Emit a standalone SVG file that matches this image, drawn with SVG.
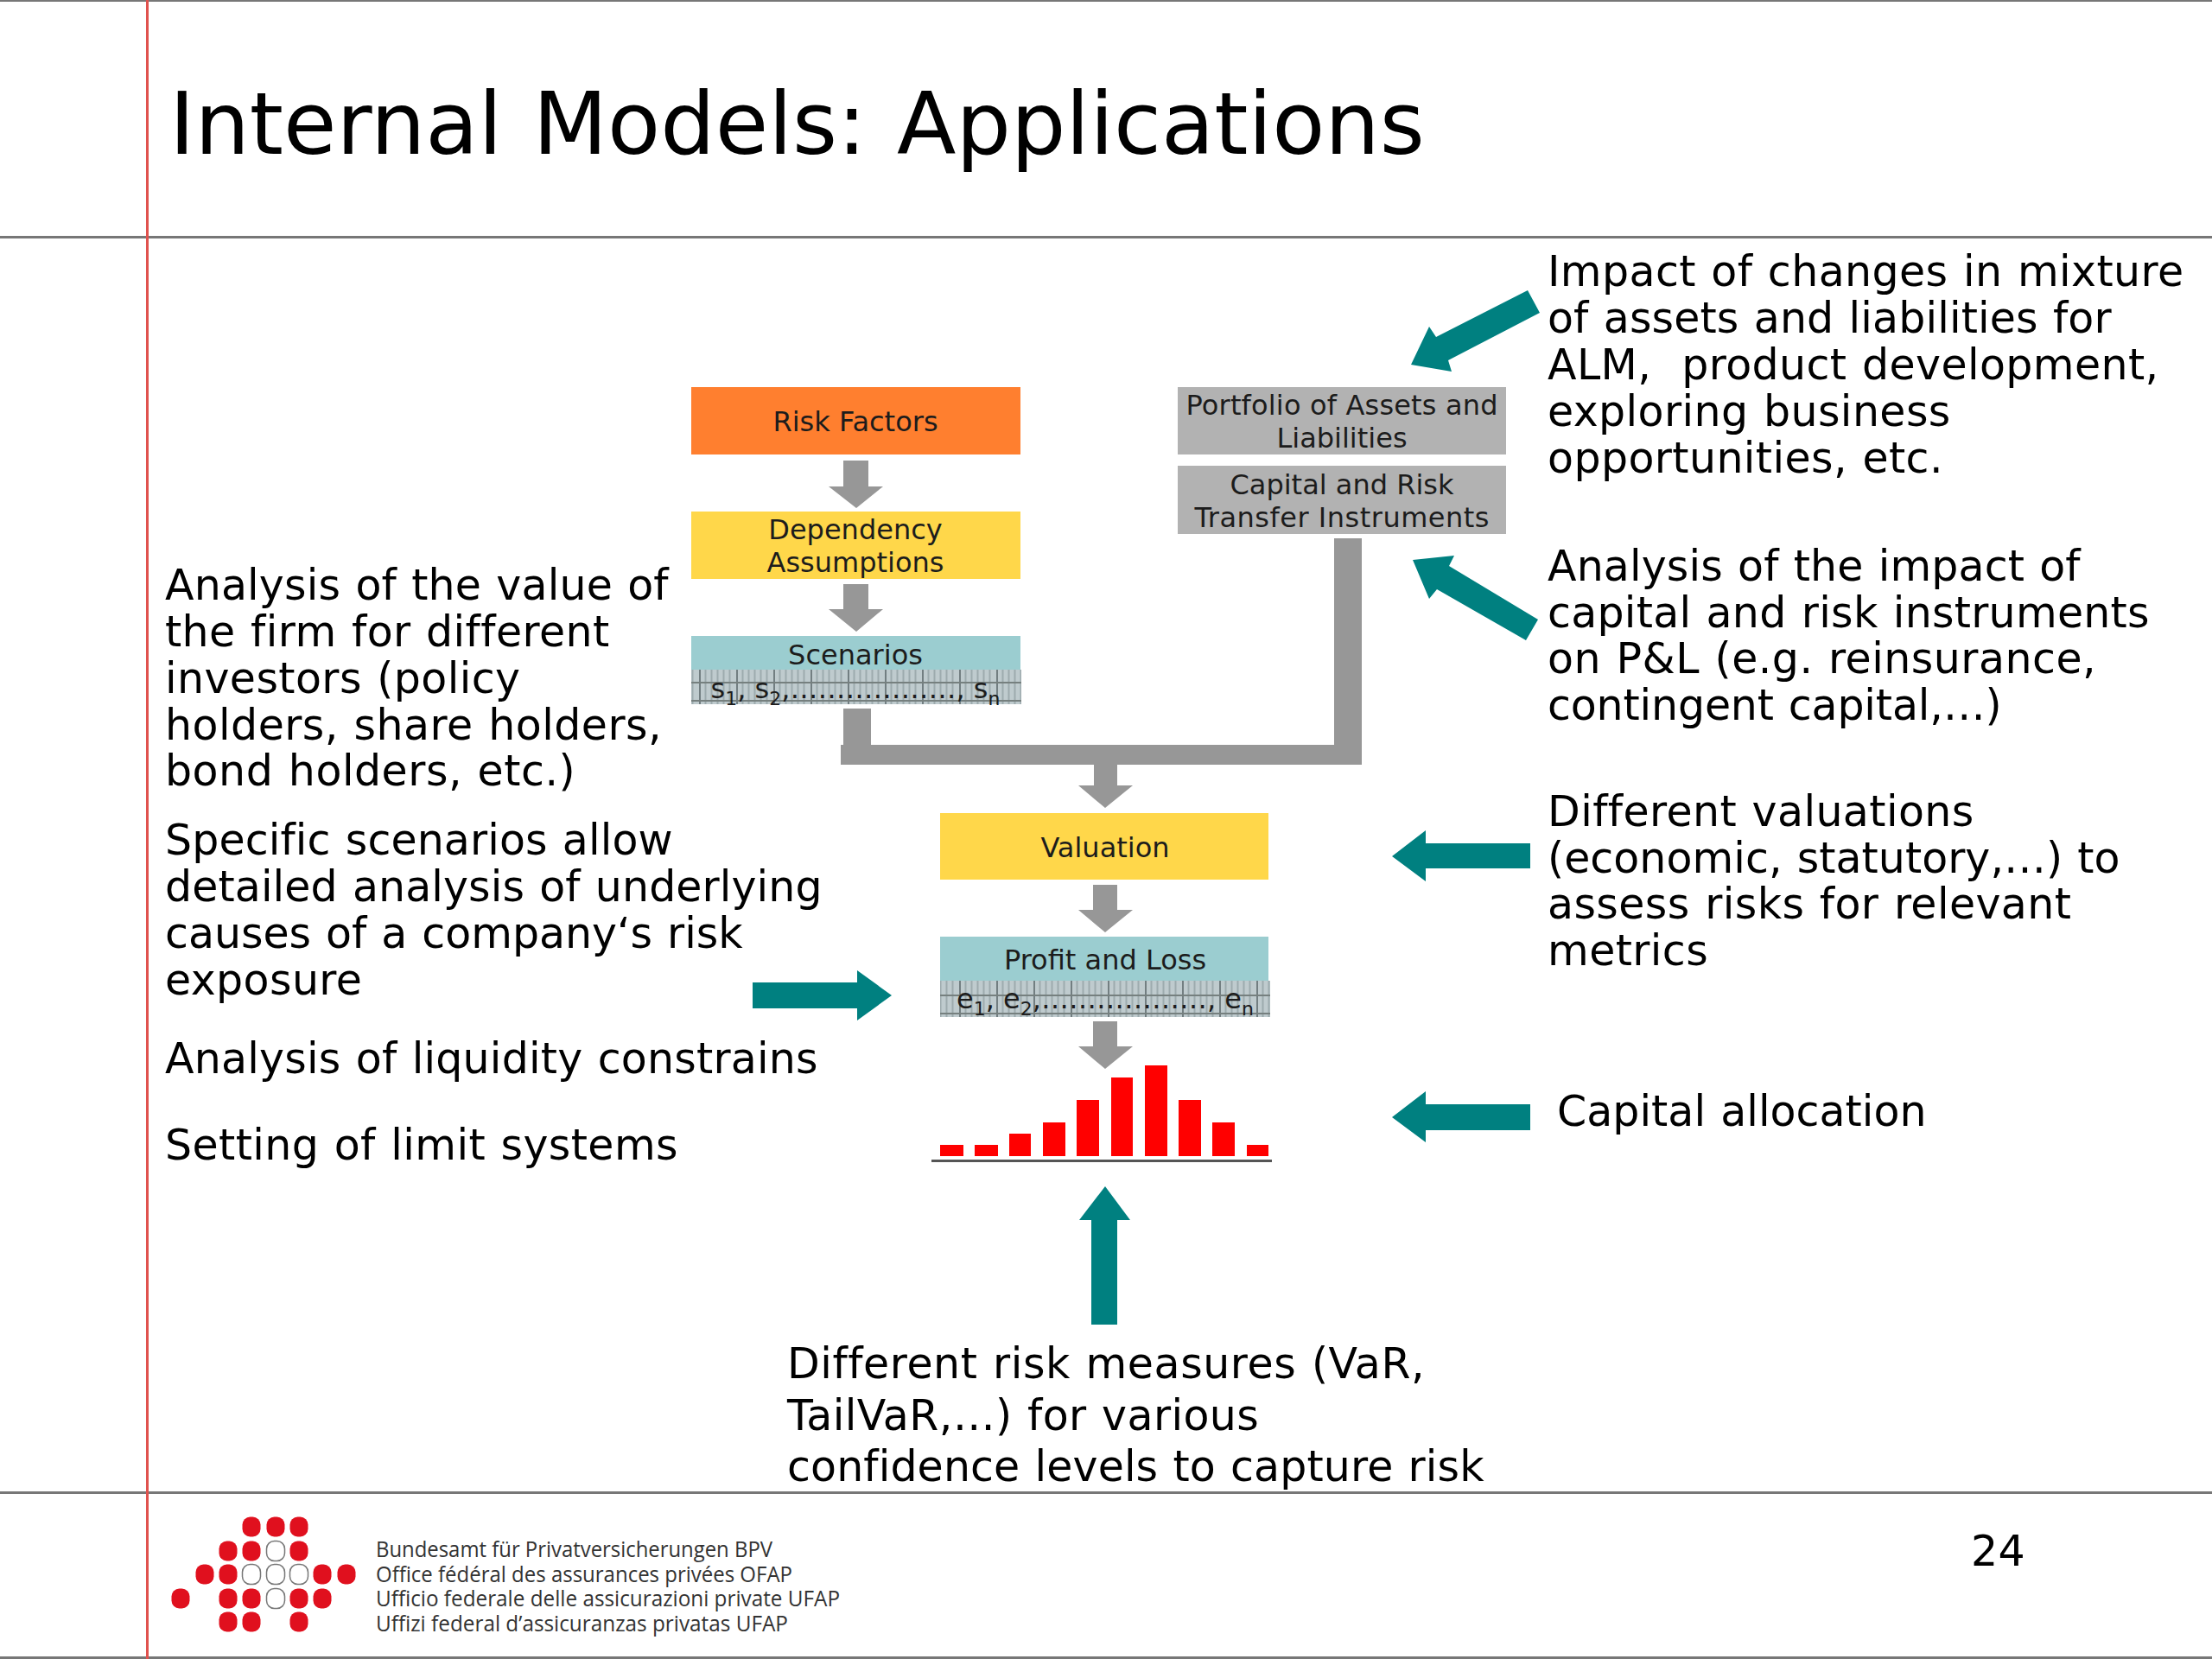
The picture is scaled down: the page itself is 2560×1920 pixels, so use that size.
<svg xmlns="http://www.w3.org/2000/svg" width="2560" height="1920" viewBox="0 0 2560 1920">
<style>
text{font-family:"DejaVu Sans","Liberation Sans",sans-serif;fill:#000}
.title{font-size:100px;word-spacing:3.5px}
.body{font-size:49px;letter-spacing:.4px;word-spacing:1.5px}
.box{font-size:32px;text-anchor:middle;fill:#1c1c1c}
.sub{font-size:22px}
.foot{font-family:"Open Sans","Noto Sans",sans-serif;font-size:25px;fill:#333}
.rule{fill:#777}
.grey{fill:#979797}
.teal{fill:#008080}
.bar{fill:#f00}
.r{fill:#e0101e}
.w{fill:#fff;stroke:#777;stroke-width:1.5}
</style>
<defs>
<pattern id="hatch-e" width="43" height="42" patternUnits="userSpaceOnUse" x="35" y="1135">
<rect width="43" height="42" fill="#bfcbce"/>
<path d="M7.5 0V42M14.5 0V42M21.5 0V42M28.5 0V42M35.5 0V42" stroke="#9dabae" stroke-width="2" fill="none"/>
<path d="M1 0V42" stroke="#727e81" stroke-width="2" fill="none"/>
<path d="M0 17H43M0 38H43" stroke="#76807f" stroke-width="2" fill="none"/>
</pattern>
<pattern id="hatch-s" width="43" height="42" patternUnits="userSpaceOnUse" x="35" y="773">
<rect width="43" height="42" fill="#bfcbce"/>
<path d="M7.5 0V42M14.5 0V42M21.5 0V42M28.5 0V42M35.5 0V42" stroke="#9dabae" stroke-width="2" fill="none"/>
<path d="M1 0V42" stroke="#727e81" stroke-width="2" fill="none"/>
<path d="M0 17H43M0 38H43" stroke="#76807f" stroke-width="2" fill="none"/>
</pattern>
<g id="dot"><rect x="-10.5" y="-11.5" width="21" height="23" rx="9"/></g>
</defs>
<rect width="2560" height="1920" fill="#fff"/>
<g id="frame">
<rect class="rule" x="0" y="0" width="2560" height="2"/>
<rect class="rule" x="0" y="273" width="2560" height="3"/>
<rect class="rule" x="0" y="1726" width="2560" height="3"/>
<rect class="rule" x="0" y="1917" width="2560" height="3"/>
<rect x="169" y="0" width="3" height="1920" fill="#e0524e"/>
</g>
<text class="title" x="196" y="178">Internal Models: Applications</text>
<g id="connectors">
<g class="grey">
<polygon points="976,533 1005,533 1005,563 1022,563 991,588 959,563 976,563"/>
<polygon points="976,676 1005,676 1005,705 1022,705 991,731 959,705 976,705"/>
<polygon points="976,820 1008,820 1008,862 1544,862 1544,623 1576,623 1576,885 1293,885 1293,909 1311,909 1279,935 1248,909 1266,909 1266,885 973,885 973,862 976,862"/>
<polygon points="1265,1024 1293,1024 1293,1053 1311,1053 1279,1079 1248,1053 1265,1053"/>
<polygon points="1265,1182 1293,1182 1293,1211 1311,1211 1279,1237 1248,1211 1265,1211"/>
</g>
<g class="teal">
<polygon points="1768,336 1782,362 1676,417 1680,430 1633,422 1654,378 1662,390"/>
<polygon points="1635,648 1683,643 1677,655 1780,717 1766,741 1663,682 1654,693"/>
<polygon points="1611,991 1650,961 1650,976 1771,976 1771,1005 1650,1005 1650,1020"/>
<polygon points="1611,1293 1650,1263 1650,1278 1771,1278 1771,1308 1650,1308 1650,1322"/>
<polygon points="871,1137 992,1137 992,1123 1032,1152 992,1181 992,1167 871,1167"/>
<polygon points="1279,1373 1308,1412 1293,1412 1293,1533 1263,1533 1263,1412 1249,1412"/>
</g>
</g>
<g id="risk-factors"><rect x="800" y="448" width="381" height="78" fill="#ff7f2f"/><text class="box" x="990" y="499">Risk Factors</text></g>
<g id="dependency"><rect x="800" y="592" width="381" height="78" fill="#ffd74a"/><text class="box" x="990" y="624">Dependency</text><text class="box" x="990" y="662">Assumptions</text></g>
<g id="scenarios"><rect x="800" y="736" width="381" height="39" fill="#9bcdd0"/><rect x="800" y="775" width="382" height="40" fill="url(#hatch-s)"/><text class="box" x="990" y="769">Scenarios</text>
<text class="box" x="990" y="808">s<tspan class="sub" dy="8">1</tspan><tspan dy="-8">, s</tspan><tspan class="sub" dy="8">2</tspan><tspan dy="-8">,………………, s</tspan><tspan class="sub" dy="8">n</tspan></text></g>
<g id="portfolio"><rect x="1363" y="448" width="380" height="78" fill="#b2b2b2"/><text class="box" x="1553" y="480" textLength="361">Portfolio of Assets and</text><text class="box" x="1553" y="518">Liabilities</text></g>
<g id="capital"><rect x="1363" y="539" width="380" height="79" fill="#b2b2b2"/><text class="box" x="1553" y="572">Capital and Risk</text><text class="box" x="1553" y="610" textLength="341">Transfer Instruments</text></g>
<g id="valuation"><rect x="1088" y="941" width="380" height="77" fill="#ffd74a"/><text class="box" x="1279" y="992">Valuation</text></g>
<g id="profit-loss"><rect x="1088" y="1084" width="380" height="51" fill="#9bcdd0"/><rect x="1088" y="1135" width="382" height="42" fill="url(#hatch-e)"/><text class="box" x="1279" y="1122">Profit and Loss</text>
<text class="box" x="1279" y="1167">e<tspan class="sub" dy="8">1</tspan><tspan dy="-8">, e</tspan><tspan class="sub" dy="8">2</tspan><tspan dy="-8">,………………, e</tspan><tspan class="sub" dy="8">n</tspan></text></g>
<g id="histogram">
<rect class="bar" x="1088" y="1325" width="27" height="13"/>
<rect class="bar" x="1128" y="1325" width="27" height="13"/>
<rect class="bar" x="1168" y="1312" width="25" height="26"/>
<rect class="bar" x="1207" y="1299" width="26" height="39"/>
<rect class="bar" x="1246" y="1273" width="26" height="65"/>
<rect class="bar" x="1286" y="1247" width="25" height="91"/>
<rect class="bar" x="1325" y="1233" width="26" height="105"/>
<rect class="bar" x="1364" y="1273" width="26" height="65"/>
<rect class="bar" x="1403" y="1299" width="26" height="39"/>
<rect class="bar" x="1443" y="1325" width="25" height="13"/>
<rect x="1078" y="1342" width="394" height="3" fill="#555"/>
</g>
<g id="note-mixture">
<text class="body" x="1791" y="331">Impact of changes in mixture</text>
<text class="body" x="1791" y="385" textLength="653">of assets and liabilities for</text>
<text class="body" x="1791" y="439" xml:space="preserve">ALM,  product development,</text>
<text class="body" x="1791" y="493">exploring business</text>
<text class="body" x="1791" y="547">opportunities, etc.</text>
</g>
<g id="note-impact">
<text class="body" x="1791" y="672" textLength="617">Analysis of the impact of</text>
<text class="body" x="1791" y="726" textLength="697">capital and risk instruments</text>
<text class="body" x="1791" y="779" textLength="635">on P&amp;L (e.g. reinsurance,</text>
<text class="body" x="1791" y="833" textLength="526">contingent capital,…)</text>
</g>
<g id="note-valuations">
<text class="body" x="1791" y="956">Different valuations</text>
<text class="body" x="1791" y="1010" textLength="663">(economic, statutory,…) to</text>
<text class="body" x="1791" y="1063">assess risks for relevant</text>
<text class="body" x="1791" y="1117">metrics</text>
</g>
<g id="note-capital"><text class="body" x="1802" y="1303" textLength="428">Capital allocation</text></g>
<g id="note-value">
<text class="body" x="191" y="694" textLength="583">Analysis of the value of</text>
<text class="body" x="191" y="748">the firm for different</text>
<text class="body" x="191" y="802">investors (policy</text>
<text class="body" x="191" y="856" textLength="575">holders, share holders,</text>
<text class="body" x="191" y="909" textLength="475">bond holders, etc.)</text>
</g>
<g id="note-scenarios">
<text class="body" x="191" y="989" textLength="588">Specific scenarios allow</text>
<text class="body" x="191" y="1043" textLength="761">detailed analysis of underlying</text>
<text class="body" x="191" y="1097" textLength="669">causes of a company‘s risk</text>
<text class="body" x="191" y="1151">exposure</text>
</g>
<g id="note-liquidity"><text class="body" x="191" y="1242" textLength="756">Analysis of liquidity constrains</text></g>
<g id="note-limits"><text class="body" x="191" y="1342">Setting of limit systems</text></g>
<g id="note-measures">
<text class="body" x="911" y="1595" textLength="738">Different risk measures (VaR,</text>
<text class="body" x="911" y="1655">TailVaR,…) for various</text>
<text class="body" x="911" y="1714" textLength="807">confidence levels to capture risk</text>
</g>
<text class="body" x="2281" y="1812">24</text>
<g id="logo">
<g class="r">
<use href="#dot" x="291" y="1767"/><use href="#dot" x="319" y="1767"/><use href="#dot" x="346" y="1767"/>
<use href="#dot" x="264" y="1795"/><use href="#dot" x="291" y="1795"/><use href="#dot" x="346" y="1795"/>
<use href="#dot" x="237" y="1822"/><use href="#dot" x="264" y="1822"/><use href="#dot" x="373" y="1822"/><use href="#dot" x="401" y="1822"/>
<use href="#dot" x="209" y="1850"/><use href="#dot" x="264" y="1850"/><use href="#dot" x="291" y="1850"/><use href="#dot" x="346" y="1850"/><use href="#dot" x="373" y="1850"/>
<use href="#dot" x="264" y="1877"/><use href="#dot" x="291" y="1877"/><use href="#dot" x="346" y="1877"/>
</g>
<g class="w">
<use href="#dot" x="319" y="1795"/>
<use href="#dot" x="291" y="1822"/><use href="#dot" x="319" y="1822"/><use href="#dot" x="346" y="1822"/>
<use href="#dot" x="319" y="1850"/>
</g>
<text class="foot" x="435" y="1802" textLength="459" lengthAdjust="spacingAndGlyphs">Bundesamt für Privatversicherungen BPV</text>
<text class="foot" x="435" y="1831" textLength="482" lengthAdjust="spacingAndGlyphs">Office fédéral des assurances privées OFAP</text>
<text class="foot" x="435" y="1859" textLength="537" lengthAdjust="spacingAndGlyphs">Ufficio federale delle assicurazioni private UFAP</text>
<text class="foot" x="435" y="1888" textLength="477" lengthAdjust="spacingAndGlyphs">Uffizi federal d’assicuranzas privatas UFAP</text>
</g>
</svg>
